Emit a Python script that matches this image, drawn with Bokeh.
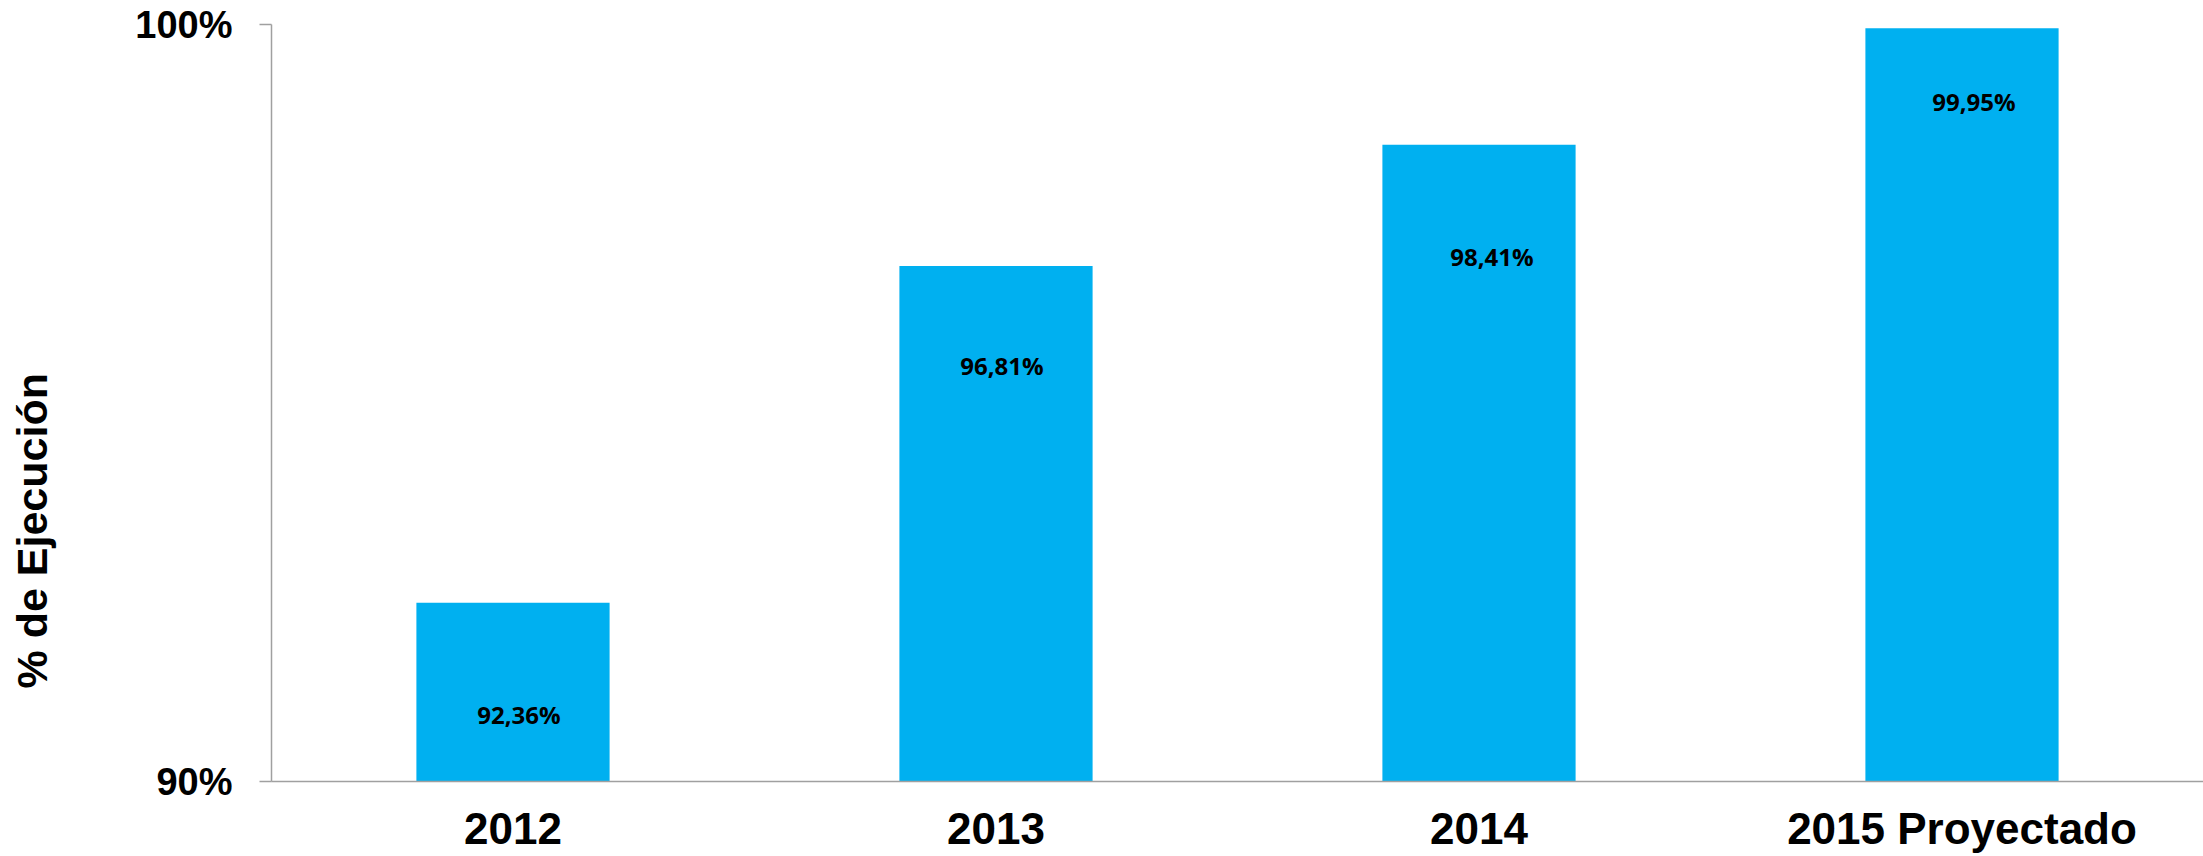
from bokeh.plotting import figure
from bokeh.models import FactorRange, Range1d, FixedTicker, PrintfTickFormatter, ColumnDataSource, Title
from bokeh.core.properties import value
from bokeh.embed import file_html
from bokeh.resources import INLINE

# ---- data ----
categories = ["2012", "2013", "2014", "2015 Proyectado"]
ejecucion = [92.36, 96.81, 98.41, 99.95]
y_ticks = [90, 100]
y_title = "% de Ejecución"

# ---- label styling (pixel nudges of the value labels inside the bars) ----
label_dx = [6, 6, 13, 12]
label_dy = [112, 100, 112, 73]

labels = [f"{v:.2f}".replace(".", ",") + "%" for v in ejecucion]
src = ColumnDataSource(dict(cat=categories, val=ejecucion, lab=labels,
                            dx=label_dx, dy=label_dy))

p = figure(x_range=FactorRange(*categories, range_padding=0),
           y_range=Range1d(90, 100),
           width=2203, height=856,
           output_backend="svg", toolbar_location=None,
           min_border_left=271, min_border_top=24,
           min_border_right=0, min_border_bottom=75)

p.vbar(x="cat", top="val", bottom=90, width=0.4, source=src,
       fill_color="#00B0F0", line_color=None)

p.text(x="cat", y="val", text="lab", source=src,
       x_offset="dx", y_offset="dy",
       text_align="center", text_baseline="middle",
       text_font=value("Open Sans"), text_font_style="bold",
       text_font_size="24px", text_color="#000000")

p.outline_line_color = None
p.background_fill_color = "white"
p.border_fill_color = "white"
p.xgrid.grid_line_color = None
p.ygrid.grid_line_color = None

# y axis
ya = p.yaxis[0]
ya.ticker = FixedTicker(ticks=y_ticks)
ya.formatter = PrintfTickFormatter(format="%d%%")
ya.minor_tick_line_color = None
ya.major_tick_in = 0
ya.major_tick_out = 12
ya.major_tick_line_color = "#a0a0a0"
ya.axis_line_color = "#a0a0a0"
ya.axis_line_width = 1.5
ya.major_tick_line_width = 1.5
ya.major_label_text_font = "Liberation Sans"
ya.major_label_text_font_style = "bold"
ya.major_label_text_font_size = "38px"
ya.major_label_text_color = "#000000"
ya.major_label_standoff = 27

# spacing panel between the axis and its title (pushes the title to the left edge)
spacer = Title(text=" ", text_font_size="10px", standoff=62)
p.add_layout(spacer, "left")

# y axis title as a side title on the left
ytitle = Title(text=y_title, align="left", offset=93, standoff=4,
               text_font="Liberation Sans", text_font_style="bold",
               text_font_size="43px", text_color="#000000")
p.add_layout(ytitle, "left")

# x axis
xa = p.xaxis[0]
xa.major_tick_in = 0
xa.major_tick_out = 0
xa.minor_tick_line_color = None
xa.axis_line_color = "#a0a0a0"
xa.axis_line_width = 1.5
xa.major_label_text_font = "Liberation Sans"
xa.major_label_text_font_style = "bold"
xa.major_label_text_font_size = "44px"
xa.major_label_text_color = "#000000"
xa.major_label_standoff = 22

open("out.html", "w").write(file_html(p, INLINE))
